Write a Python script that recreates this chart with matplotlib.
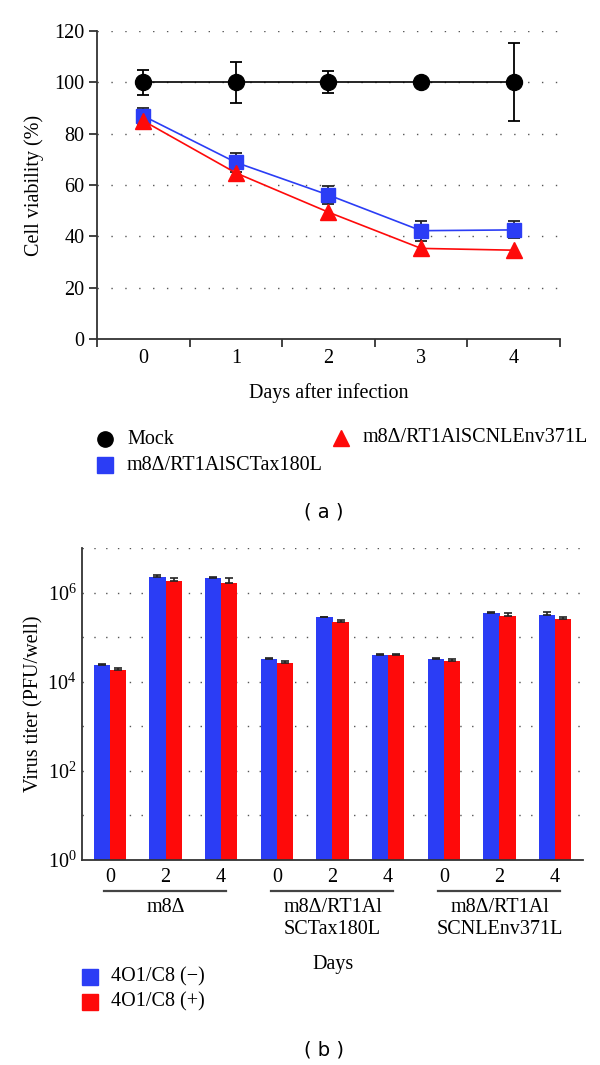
import matplotlib.pyplot as plt
import numpy as np
from matplotlib.lines import Line2D
from matplotlib.transforms import blended_transform_factory

# panel (a): cell viability
days = [0, 1, 2, 3, 4]
mock = [100, 100, 100, 100, 100]
mock_err = [4.8, 8.0, 4.3, 0.8, 15.2]
tax = [86.9, 68.8, 56.1, 42.2, 42.5]
tax_err = [3.0, 3.8, 3.5, 3.9, 3.3]
env = [85.0, 64.7, 49.4, 35.3, 34.6]

# panel (b): virus titer
groups = ["m8\u0394", "m8\u0394/RT1Al\nSCTax180L", "m8\u0394/RT1Al\nSCNLEnv371L"]
day_labels = ["0", "2", "4"]
titer_minus = [2.36e4, 2.24e6, 2.09e6, 3.21e4, 2.80e5, 4.0e4, 3.2e4, 3.57e5, 3.16e5]
titer_plus = [1.82e4, 1.79e6, 1.68e6, 2.66e4, 2.17e5, 4.0e4, 2.9e4, 3.0e5, 2.53e5]
err_minus = [8e2, 2.5e5, 1.9e5, 1.2e3, 1.0e4, 1.0e3, 1.9e3, 1.9e4, 5.3e4]
err_plus = [2.0e3, 3.8e5, 4.1e5, 2.9e3, 2.7e4, 1.0e3, 2.6e3, 4.5e4, 2.7e4]

BLUE = "#2b3df5"
RED = "#fe0a0a"
AXC = "#333333"
W, H = 600, 1065
SERIF = "Liberation Serif"
FS = 14.5

plt.rcParams["font.family"] = SERIF
plt.rcParams["mathtext.fontset"] = "custom"
plt.rcParams["mathtext.rm"] = SERIF
plt.rcParams["mathtext.it"] = SERIF + ":italic"
fig = plt.figure(figsize=(W / 100, H / 100), dpi=100)


def px(x, y):
    return x / W, 1 - y / H


def axes_rect(left, top, right, bottom):
    return [left / W, 1 - bottom / H, (right - left) / W, (bottom - top) / H]


# ---------------- panel (a) ----------------
ax = fig.add_axes(axes_rect(97, 31, 560, 339))
ax.set_xlim(-0.5, 4.5)
ax.set_ylim(0, 120)
for y in range(20, 121, 20):
    ax.axhline(y, color="#555555", lw=1.0, ls=(0, (1, 9)), zorder=0)

ax.errorbar(days, mock, yerr=mock_err, color="black", lw=1.2, elinewidth=1.3,
            capsize=4.5, capthick=1.3, marker="o", ms=11.5, zorder=3)
ax.errorbar(days, tax, yerr=tax_err, color=BLUE, ecolor="#222222", lw=1.2,
            elinewidth=1.3, capsize=4, capthick=1.3, marker="s", ms=10.5, zorder=4)
ax.plot(days, env, color=RED, lw=1.2, marker="^", ms=11, zorder=5)

ax.set_xticks(np.arange(-0.5, 4.6, 1))
ax.set_xticklabels([])
ax.set_xticks(days, minor=True)
ax.set_xticklabels([str(d) for d in days], minor=True, fontsize=FS)
ax.tick_params(axis="x", which="major", direction="out", length=6, width=1.3, color=AXC)
ax.tick_params(axis="x", which="minor", length=0, pad=7)
ax.set_yticks(range(0, 121, 20))
ax.tick_params(axis="y", direction="out", length=6, width=1.3, color=AXC, labelsize=FS, pad=3)
for s in ["top", "right"]:
    ax.spines[s].set_visible(False)
for s in ["left", "bottom"]:
    ax.spines[s].set_linewidth(1.3)
    ax.spines[s].set_color(AXC)
ax.set_ylabel("Cell viability (%)", fontsize=FS)
ax.yaxis.set_label_coords(-0.115, 0.5)
fig.text(*px(329, 393), "Days after infection", fontsize=FS, ha="center", va="center")

# legend (a)
legend_items = [
    ("o", "black", 105, 439, "Mock"),
    ("s", BLUE, 105, 465, "m8\u0394/RT1AlSCTax180L"),
    ("^", RED, 341, 438, "m8\u0394/RT1AlSCNLEnv371L"),
]
for mk, col, x, y, lab in legend_items:
    fig.add_artist(Line2D([x / W], [1 - y / H], marker=mk, color=col, ms=11,
                          ls="none", transform=fig.transFigure))
    fig.text(*px(x + 22, y), lab, fontsize=FS, ha="left", va="center")

fig.text(*px(324, 512), "( a )", fontsize=14, ha="center", va="center", family="DejaVu Sans")

# ---------------- panel (b) ----------------
bx = fig.add_axes(axes_rect(82, 548, 583, 860))
x = np.arange(len(titer_minus))
bw = 0.29
bx.set_yscale("log")
bx.set_ylim(1, 1e7)
bx.set_xlim(-0.5, 8.5)
for k in range(1, 8):
    bx.axhline(10.0 ** k, color="#555555", lw=1.0, ls=(0, (1, 7.5)), zorder=0)
bx.bar(x - bw / 2, titer_minus, bw, color=BLUE, zorder=2,
       yerr=[np.zeros(len(x)), err_minus], error_kw=dict(ecolor="#222222", elinewidth=1.2,
                                                         capsize=3, capthick=1.2))
bx.bar(x + bw / 2, titer_plus, bw, color=RED, zorder=2,
       yerr=[np.zeros(len(x)), err_plus], error_kw=dict(ecolor="#222222", elinewidth=1.2,
                                                        capsize=3, capthick=1.2))
bx.set_yticks([1, 1e2, 1e4, 1e6])
bx.set_yticklabels([r"$10^{0}$", r"$10^{2}$", r"$10^{4}$", r"$10^{6}$"])
bx.minorticks_off()
bx.tick_params(axis="y", length=0, labelsize=FS, pad=4)
bx.set_xticks(x)
bx.set_xticklabels(day_labels * 3, fontsize=FS)
bx.tick_params(axis="x", length=0, pad=6)
for s in ["top", "right"]:
    bx.spines[s].set_visible(False)
for s in ["left", "bottom"]:
    bx.spines[s].set_linewidth(1.3)
    bx.spines[s].set_color(AXC)
bx.set_ylabel("Virus titer (PFU/well)", fontsize=FS)
bx.yaxis.set_label_coords(-0.076, 0.5)

trans = blended_transform_factory(bx.transData, bx.transAxes)
y_line = (860 - 891) / 312
y_text = (860 - 898) / 312
for i, name in enumerate(groups):
    g0, g1 = 3 * i, 3 * i + 2
    bx.add_line(Line2D([g0 - 0.11, g1 + 0.09], [y_line, y_line], color="#444444",
                       lw=1.6, transform=trans, clip_on=False))
    bx.text((g0 + g1) / 2, y_text, name, transform=trans, ha="center", va="top",
            fontsize=FS, linespacing=1.2)
fig.text(*px(333, 965), "Days", fontsize=FS, ha="center", va="center")

# legend (b)
for col, y, lab in [(BLUE, 977, "4O1/C8 (\u2212)"), (RED, 1002, "4O1/C8 (+)")]:
    fig.add_artist(Line2D([90 / W], [1 - y / H], marker="s", color=col, ms=11,
                          ls="none", transform=fig.transFigure))
    fig.text(*px(111, y), lab, fontsize=FS, ha="left", va="center")

fig.text(*px(324, 1050), "( b )", fontsize=14, ha="center", va="center", family="DejaVu Sans")

fig.savefig("out.png", dpi=100)
